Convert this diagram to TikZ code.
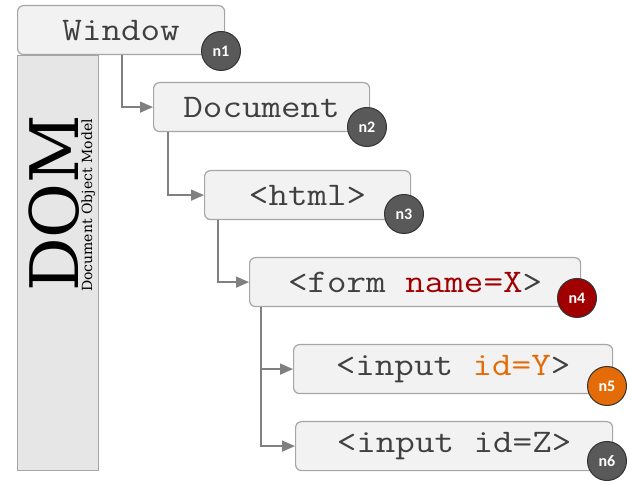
\documentclass[tikz,border=0pt]{standalone}
\usepackage{fontspec}
\newfontfamily\codefont{Latin Modern Mono}[FakeStretch=1.15]
\newfontfamily\domfont{DejaVu Serif}
\newfontfamily\badgefont{Carlito}
\usetikzlibrary{arrows.meta}
\definecolor{boxfill}{HTML}{F2F2F2}
\definecolor{boxline}{HTML}{A6A6A6}
\definecolor{barfill}{HTML}{E6E6E6}
\definecolor{conncol}{HTML}{808080}
\definecolor{txtcol}{HTML}{404040}
\definecolor{badgegray}{HTML}{595959}
\definecolor{badgered}{HTML}{A00000}
\definecolor{badgeorange}{HTML}{E36C09}
\definecolor{namered}{HTML}{A00000}
\definecolor{idorange}{HTML}{E36C09}
\tikzset{
  x=1pt, y=-1pt,
  dombox/.style={draw=boxline, fill=boxfill, line width=1.2pt, rounded corners=6pt,
    anchor=north west, minimum height=49pt, inner sep=0pt, text=txtcol,
    font=\codefont\fontsize{33}{33}\selectfont},
  badge/.style={circle, draw=black!80, line width=1pt, minimum size=39pt, inner sep=0pt,
    text=white, font=\badgefont\bfseries\fontsize{16}{16}\selectfont},
  conn/.style={draw=conncol, line width=1.5pt, -{Triangle[length=13pt,width=11pt]}, color=conncol},
}
\begin{document}
\begin{tikzpicture}
\useasboundingbox (0,0) rectangle (630,481);
% DOM bar
\node[draw=boxline, fill=barfill, line width=1.2pt, anchor=north west, minimum width=81pt,
  minimum height=415pt, inner sep=0pt] (bar) at (17,55) {};
\node[rotate=90, anchor=base west, inner sep=0pt, font=\domfont\fontsize{67}{67}\selectfont] (dom) at (78,292) {DOM};
\node[rotate=90, anchor=base west, inner sep=0pt, font=\domfont\fontsize{14}{14}\selectfont] (dommodel) at (92,292) {Document Object Model};
% boxes
\node[dombox, minimum width=207pt] (win) at (17,5) {Window};
\node[dombox, minimum width=216pt] (doc) at (153,82) {Document};
\node[dombox, minimum width=206pt] (html) at (204,170) {<html>};
\node[dombox, minimum width=331pt] (form) at (249,257) {<form \textcolor{namered}{name=X}>};
\node[dombox, minimum width=319pt] (inY) at (293,344) {<input \textcolor{idorange}{id=Y}>};
\node[dombox, minimum width=317pt] (inZ) at (295,421) {<input id=Z>};
% connectors
\draw[conn] ([xshift=105pt]win.south west) |- (doc.west);
\draw[conn] ([xshift=15pt]doc.south west) |- (html.west);
\draw[conn] ([xshift=14pt]html.south west) |- (form.west);
\draw[conn] ([xshift=12pt]form.south west) |- (inY.west);
\draw[conn] ([xshift=12pt]form.south west) |- (inZ.west);
% badges
\node[badge, fill=badgegray] (n1) at (221,51) {n1};
\node[badge, fill=badgegray] (n2) at (367,127) {n2};
\node[badge, fill=badgegray] (n3) at (404,214) {n3};
\node[badge, fill=badgered] (n4) at (577,298) {n4};
\node[badge, fill=badgeorange] (n5) at (607,386) {n5};
\node[badge, fill=badgegray] (n6) at (607,461) {n6};
\end{tikzpicture}
\end{document}
